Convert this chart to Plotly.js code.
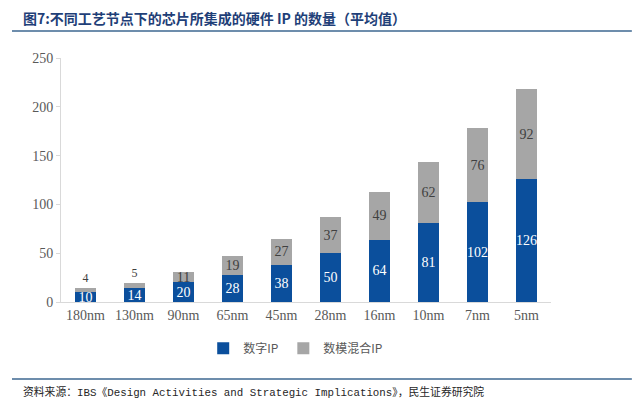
<!DOCTYPE html>
<html>
<head>
<meta charset="utf-8">
<script src="https://cdn.plot.ly/plotly-3.0.1.min.js"></script>
<style>
  html, body { margin: 0; padding: 0; background: #fff; }
  #chart { width: 640px; height: 410px; }
</style>
</head>
<body>
<div id="chart"></div>
<script>
// process nodes and average number of hardware IP per chip
const nodes = ['180nm', '130nm', '90nm', '65nm', '45nm', '28nm', '16nm', '10nm', '7nm', '5nm'];
const digitalIP = [10, 14, 20, 28, 38, 50, 64, 81, 102, 126];
const mixedIP = [4, 5, 11, 19, 27, 37, 49, 62, 76, 92];
const yTicks = [0, 50, 100, 150, 200, 250];

const serif = '"Liberation Serif", "Times New Roman", serif';
const cjk = '"Noto Sans CJK SC", sans-serif';
const lineBlue = '#3d6790';

// the thin top segments are too short for a label, put it just above them
const mixedPos = mixedIP.map(v => (v < 8 ? 'outside' : 'inside'));
const mixedSizes = mixedIP.map(v => (v < 8 ? 12 : 14));

const traces = [
    {
        x: nodes,
        y: digitalIP,
        type: 'bar',
        name: '数字IP',
        marker: { color: '#0b4f9c' },
        text: digitalIP.map(String),
        textposition: 'inside',
        insidetextanchor: 'middle',
        constraintext: 'none',
        textangle: 0,
        textfont: { family: serif, size: 14, color: '#ffffff' }
    },
    {
        x: nodes,
        y: mixedIP,
        type: 'bar',
        name: '数模混合IP',
        marker: { color: '#a6a6a6' },
        text: mixedIP.map(String),
        textposition: mixedPos,
        insidetextanchor: 'middle',
        constraintext: 'none',
        cliponaxis: false,
        textangle: 0,
        textfont: { family: serif, size: mixedSizes, color: '#404040' },
        outsidetextfont: { family: serif, size: mixedSizes, color: '#404040' }
    }
];

const layout = {
    width: 640,
    height: 410,
    margin: { l: 61, r: 89, t: 58, b: 108 },
    paper_bgcolor: '#ffffff',
    plot_bgcolor: '#ffffff',
    barmode: 'stack',
    bargap: 0.59,
    hovermode: false,
    xaxis: {
        type: 'category',
        showline: true,
        linecolor: '#d9d9d9',
        linewidth: 1,
        ticks: '',
        tickfont: { family: serif, size: 14, color: '#595959' },
        showgrid: false,
        zeroline: false
    },
    yaxis: {
        range: [0, 250],
        tickvals: yTicks,
        showline: true,
        linecolor: '#d9d9d9',
        linewidth: 1,
        ticks: 'outside',
        ticklen: 4,
        tickcolor: '#d9d9d9',
        tickfont: { family: serif, size: 14, color: '#595959' },
        showgrid: false,
        zeroline: false
    },
    showlegend: true,
    legend: {
        orientation: 'h',
        x: 0.479,
        xanchor: 'center',
        y: -0.19,
        yanchor: 'middle',
        font: { family: cjk, size: 12, color: '#595959' },
        itemwidth: 30,
        traceorder: 'normal'
    },
    shapes: [
        { type: 'line', xref: 'paper', yref: 'paper', x0: -0.1, x1: 1.165, y0: 1.111, y1: 1.111,
          line: { color: lineBlue, width: 1.5 } },
        { type: 'line', xref: 'paper', yref: 'paper', x0: -0.1, x1: 1.165, y0: -0.316, y1: -0.316,
          line: { color: lineBlue, width: 1.5 } }
    ],
    annotations: [
        { xref: 'paper', yref: 'paper', x: -0.082, y: 1.164, xanchor: 'left', yanchor: 'middle',
          text: '<b>图7:不同工艺节点下的芯片所集成的硬件 IP 的数量（平均值）</b>', showarrow: false,
          font: { family: cjk, size: 14, color: '#1f3f78' } },
        { xref: 'paper', yref: 'paper', x: -0.082, y: -0.369, xanchor: 'left', yanchor: 'middle',
          text: '资料来源：IBS《Design Activities and Strategic Implications》，民生证券研究院', showarrow: false,
          font: { family: '"Liberation Mono", "Noto Sans CJK SC", monospace', size: 10.8, color: '#262626' } }
    ]
};

Plotly.newPlot('chart', traces, layout, { displayModeBar: false, staticPlot: true });
</script>
</body>
</html>
